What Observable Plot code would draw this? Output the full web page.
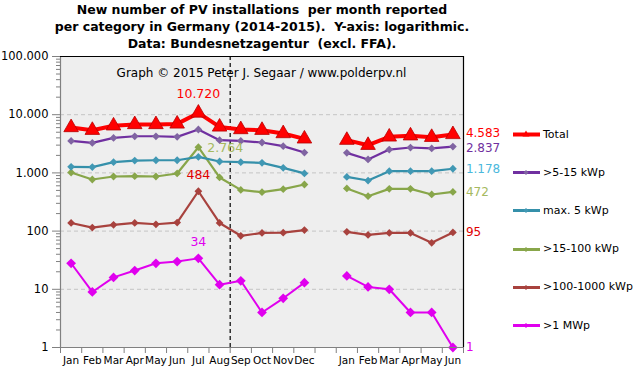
<!DOCTYPE html>
<html><head><meta charset="utf-8">
<script src="https://cdn.jsdelivr.net/npm/d3@7"></script>
<script src="https://cdn.jsdelivr.net/npm/@observablehq/plot@0.6"></script>
<style>
body{margin:0;background:#fff;font-family:"DejaVu Sans",sans-serif;}
#wrap{position:relative;width:641px;height:381px;overflow:hidden;}
#chart{position:absolute;left:0;top:0;}
#title{position:absolute;left:0;top:1px;width:524px;text-align:center;font-weight:bold;font-size:12.5px;line-height:17px;color:#000;}
#copy{position:absolute;left:60px;width:403px;top:66px;text-align:center;font-size:12px;color:#000;}
.li{position:absolute;left:512px;height:16px;display:flex;align-items:center;font-size:11px;color:#000;white-space:nowrap;}
.li svg{margin-right:2px;}
</style></head><body>
<div id="wrap">
<div id="chart"></div>
<div id="title">New number of PV installations&nbsp; per month reported<br>per category in Germany (2014-2015).&nbsp; Y-axis: logarithmic.<br>Data: Bundesnetzagentur&nbsp; (excl. FFA).</div>
<div id="copy">Graph © 2015 Peter J. Segaar / www.polderpv.nl</div>
<div id="legend"></div>
</div>
<script>
// ---- data ----
const monthLabels = ["Jan","Feb","Mar","Apr","May","Jun","Jul","Aug","Sep","Oct","Nov","Dec","",
                     "Jan","Feb","Mar","Apr","May","Jun"];
const seriesNames = ["Total", ">5-15 kWp", "max. 5 kWp", ">15-100 kWp", ">100-1000 kWp", ">1 MWp"];
const total     = [6030,5420,6450,6800,6800,6950,10720,6170,5570,5420,4750,3850,null,3650,2990,4160,4350,4100,4583];
const kwp5to15  = [3550,3280,3990,4260,4260,4160,5570,3650,3550,3330,2880,2240,null,2210,1700,2520,2730,2630,2837];
const max5      = [1270,1260,1530,1630,1650,1650,1880,1570,1530,1490,1220,980,null,853,740,1070,1070,1070,1178];
const kwp15to100= [1016,770,867,878,867,977,2764,834,510,466,525,632,null,540,398,532,532,426,472];
const kwp100to1000=[138,115,128,138,131,140,484,138,83,93,94,104,null,97,86,93,93,63,95];
const mwp1      = [28,9,16,21,28,30,34,12,14,4,7,13,null,17,11,10,4,4,1];
const yTicks = [1,10,100,1000,10000,100000];
const gridTicks = [10,100,1000,10000];
const dividerAt = [7.5];   // between Jul and Aug 2014
const peakIndex = 6;       // Jul 2014
const lastIndex = 18;      // Jun 2015

// ---- styles ----
const styles = [
  {name: seriesNames[0], values: total, line:"#ff0000", mark:"#ff0000", mstroke:"#b80000", sw:4, symbol:"triangle", r:5.4, label:"#ff0000", ldy:-0.5},
  {name: seriesNames[1], values: kwp5to15, line:"#7030a0", mark:"#8064a2", sw:2.2, symbol:"diamond2", r:3.5, label:"#7030a0", ldy:1.5},
  {name: seriesNames[2], values: max5, line:"#3590aa", mark:"#4198b4", sw:2.2, symbol:"diamond2", r:3.5, label:"#4bb8dc", ldy:0.5},
  {name: seriesNames[3], values: kwp15to100, line:"#88a64a", mark:"#88a64a", sw:2.2, symbol:"diamond2", r:3.5, label:"#a5b960", ldy:0.5},
  {name: seriesNames[4], values: kwp100to1000, line:"#a8423e", mark:"#a8423e", sw:2.2, symbol:"diamond2", r:3.5, label:"#e00000", ldy:0.5},
  {name: seriesNames[5], values: mwp1, line:"#e000ee", mark:"#e000ee", sw:2, symbol:"diamond2", r:4.4, label:"#e000ee", ldy:0}
];

const locale = d3.formatLocale({decimal:",", thousands:".", grouping:[3], currency:["€",""]});
const fmt = locale.format(",d");

const rowsOf = s => s.values.map((v,i)=>({i, v, seg: i<12?0:1, name:s.name})).filter(d=>d.v!=null);

const marks = [
  Plot.frame({fill:"#eeeeee", stroke:null}),
  Plot.gridY({ticks: gridTicks, stroke:"#c4c4c4", strokeOpacity:1, strokeDasharray:"4,3"}),
  Plot.ruleX(dividerAt, {stroke:"#000", strokeDasharray:"4,3", strokeWidth:1.2}),
];
// draw bottom series first, Total last
for (const s of styles.slice().reverse()) {
  const rows = rowsOf(s);
  marks.push(Plot.line(rows, {x:"i", y:"v", z:"seg", stroke:s.line, strokeWidth:s.sw, strokeLinejoin:"round"}));
  marks.push(Plot.dot(rows, {x:"i", y:"v", symbol:s.symbol, r:s.r, fill:s.mark, stroke:s.mstroke||"none", strokeWidth:0.8}));
}
// peak annotations (Jul 2014)
const peakOpts = [
  {s:0, dx:0, dy:-19, anchor:"middle"},
  {s:3, dx:9, dy:1, anchor:"start"},
  {s:4, dx:0, dy:-16, anchor:"middle"},
  {s:5, dx:0, dy:-16, anchor:"middle"}
];
for (const p of peakOpts) {
  const s = styles[p.s];
  marks.push(Plot.text([{i:peakIndex, v:s.values[peakIndex]}], {x:"i", y:"v", text:d=>fmt(d.v), dx:p.dx, dy:p.dy,
    textAnchor:p.anchor, fill: p.s===3 ? "#a5b960" : (p.s===4 ? "#e00000" : s.label), fontSize:12.5}));
}
// end labels (Jun 2015)
for (const s of styles) {
  marks.push(Plot.text([{i:lastIndex, v:s.values[lastIndex]}], {x:"i", y:"v", text:d=>fmt(d.v), dx:13, dy:s.ldy,
    textAnchor:"start", fill:s.label, fontSize:12, lineHeight:0.9}));
}
// axes and borders
const minor = [];
for (let e=0;e<5;e++) for (let k=2;k<=9;k++) minor.push(k*Math.pow(10,e));
const halfTicks = d3.range(-0.5, 19, 1);
marks.push(
  Plot.ruleX([-0.5], {stroke:"#808080", strokeWidth:1.2}),
  Plot.ruleY([1], {stroke:"#808080", strokeWidth:1.2}),
  Plot.ruleY([100000], {stroke:"#000", strokeWidth:1.2}),
  Plot.ruleX([18.5], {stroke:"#000", strokeWidth:1.2}),
  Plot.axisY({ticks: minor, tickSize:4, tickFormat:()=>"", stroke:"#808080", label:null}),
  Plot.axisY({ticks: yTicks, tickSize:8, tickPadding:4, tickFormat:fmt, stroke:"#808080", fill:"#000", fontSize:11.5, label:null}),
  Plot.axisX({ticks: halfTicks, tickSize:6, tickFormat:()=>"", stroke:"#808080", label:null}),
  Plot.axisX({ticks: d3.range(0,19), tickSize:0, tickPadding:9, tickFormat:i=>monthLabels[i], fill:"#000", fontSize:10.5, label:null})
);

const chart = Plot.plot({
  width: 641, height: 381,
  marginLeft: 60, marginRight: 178, marginTop: 56, marginBottom: 34,
  x: {type:"linear", domain:[-0.5, 18.5]},
  y: {type:"log", domain:[1, 100000]},
  style: {fontFamily:"DejaVu Sans, sans-serif", fontSize:"11px", background:"transparent", color:"#000", overflow:"visible"},
  marks
});
document.getElementById("chart").appendChild(chart);

// legend
const legend = document.getElementById("legend");
const legendTop = 126, legendStep = 38.2;
styles.forEach((s, k) => {
  const div = document.createElement("div");
  div.className = "li";
  div.style.top = (legendTop + k*legendStep) + "px";
  const isTri = s.symbol === "triangle";
  const marker = isTri
    ? `<path d="M14,4.5 L17.5,10.5 L10.5,10.5 Z" fill="${s.mark}"/>`
    : `<path d="M14,6 L16.5,8.5 L14,11 L11.5,8.5 Z" fill="${s.mark}"/>`;
  div.innerHTML = `<svg width="29" height="16"><line x1="1" x2="28" y1="8.5" y2="8.5" stroke="${s.line}" stroke-width="${isTri?4:3}"/>${marker}</svg><span>${s.name}</span>`;
  legend.appendChild(div);
});
</script>
</body></html>
